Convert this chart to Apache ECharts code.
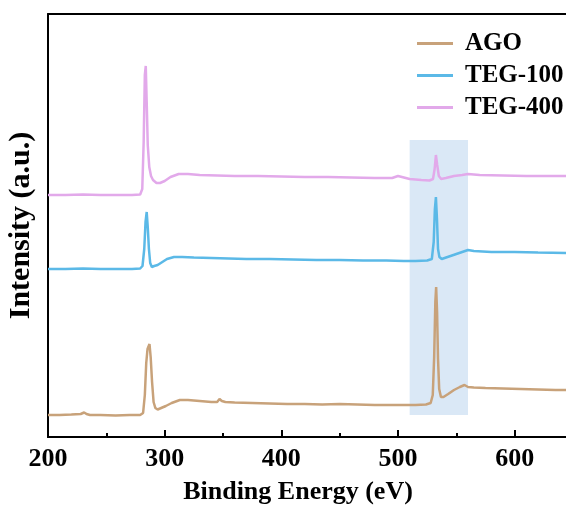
<!DOCTYPE html>
<html>
<head>
<meta charset="utf-8">
<title>XPS survey</title>
<script src="https://cdn.jsdelivr.net/npm/echarts@6/dist/echarts.min.js"></script>
<style>
  html, body { margin: 0; padding: 0; background: #fff; }
  #main { width: 566px; height: 506px; }
</style>
</head>
<body>
<div id="main"></div>
<script>
  // values (intensity in arbitrary offset units)
  var xTicks = [200, 300, 400, 500, 600];
  var xMinorTicks = [250, 350, 450, 550];
  var seriesNames = ['AGO', 'TEG-100', 'TEG-400'];
  var shadeRange = [510, 560];

  var agoEnergy = [200, 210, 220, 228, 231, 233, 236, 245, 258, 270, 279, 281.5, 283, 284.2, 285.3, 286.2, 287, 288, 289.2, 290.5, 292, 294, 297, 301, 306, 313, 320, 330, 340, 345, 347, 349, 352, 360, 375, 390, 405, 420, 435, 450, 465, 480, 495, 505, 515, 524, 528, 529.8, 531, 532, 532.7, 533.5, 534.3, 535.3, 536.8, 539, 543, 548, 553, 557, 560, 565, 575, 590, 605, 620, 635, 644];
  var agoIntensity = [22, 22, 22.5, 23, 24.5, 23, 22, 22, 21.5, 22, 22, 24, 42, 74, 88, 86, 93, 80, 55, 35, 29, 27.5, 29, 31, 34, 37, 37, 36, 35, 35, 38, 36, 35, 34.5, 34, 33.5, 33, 33, 32.5, 33, 32.5, 32, 32, 32, 32, 32.5, 34, 42, 80, 135, 150, 125, 78, 48, 40, 40, 43, 47, 50, 52, 50, 49.5, 49, 48.5, 48, 47.5, 47, 47];

  var teg100Energy = [200, 215, 230, 245, 260, 272, 279, 281, 282.5, 283.6, 284.6, 285.5, 286.5, 287.6, 289, 291, 294, 298, 302, 308, 315, 325, 340, 355, 370, 390, 410, 430, 450, 470, 490, 505, 515, 525, 529, 530.6, 531.6, 532.5, 533.4, 534.3, 535.5, 537.5, 540, 545, 550, 555, 560, 565, 580, 600, 620, 644];
  var teg100Intensity = [168, 168, 168.5, 168, 168, 168, 168.5, 171, 188, 215, 225, 210, 188, 174, 170, 171, 172, 175, 178, 180, 180, 179.5, 179, 178.5, 178, 178, 177.5, 177, 177, 176.5, 176.5, 176, 176, 176.5, 178, 195, 228, 240, 218, 188, 180, 178, 179, 181, 183, 185, 187, 186, 185, 185, 184.5, 184];

  var teg400Energy = [200, 215, 230, 245, 260, 272, 279, 280.8, 282, 283, 283.8, 284.6, 285.5, 286.8, 288.3, 290, 293, 296, 300, 305, 312, 320, 330, 345, 360, 380, 400, 420, 440, 460, 480, 495, 500, 510, 520, 527, 530, 531.4, 532.5, 533.6, 535, 537, 541, 548, 555, 560, 570, 590, 610, 630, 644];
  var teg400Intensity = [242, 242, 242.5, 242, 242, 242, 242.5, 248, 295, 362, 371, 335, 292, 270, 261, 257, 254, 254, 256, 260, 263, 263, 262, 261.5, 261, 261, 260.5, 260, 260, 259.5, 259, 259, 261, 258, 257, 256.5, 258, 268, 282, 272, 261, 258, 259, 261, 262, 263, 262, 261.5, 261, 261, 261];

  var colors = ['#c8a27a', '#5bb9e7', '#e2a9ea'];
  var serif = 'Liberation Serif';

  function pairs(xs, ys) {
    var out = [];
    for (var i = 0; i < xs.length; i++) out.push([xs[i], ys[i]]);
    return out;
  }

  var lineData = [
    pairs(agoEnergy, agoIntensity),
    pairs(teg100Energy, teg100Intensity),
    pairs(teg400Energy, teg400Intensity)
  ];

  var series = seriesNames.map(function (name, i) {
    return {
      name: name,
      type: 'line',
      data: lineData[i],
      color: colors[i],
      showSymbol: false,
      symbol: 'none',
      lineStyle: { width: 2.5, color: colors[i] },
      z: 2
    };
  });

  // highlighted O 1s region, drawn over the lines
  series.push({
    name: 'shade',
    type: 'line',
    data: [],
    z: 5,
    markArea: {
      silent: true,
      itemStyle: { color: 'rgba(150,190,228,0.35)' },
      data: [[{ xAxis: shadeRange[0], yAxis: 22 }, { xAxis: shadeRange[1], yAxis: 297 }]]
    }
  });

  var myChart = echarts.init(document.getElementById('main'));
  myChart.setOption({
    animation: false,
    backgroundColor: '#fff',
    grid: { left: 48, right: 0, top: 14, bottom: 69, outerBoundsMode: 'none' },
    legend: {
      data: seriesNames,
      orient: 'vertical',
      left: 412,
      top: 26,
      itemGap: 7,
      itemWidth: 43,
      itemHeight: 3,
      icon: 'path://M0,0h36v3h-36zM42.9,0h0.1v0.1h-0.1z',
      textStyle: { fontFamily: serif, fontWeight: 'bold', fontSize: 25, lineHeight: 25, color: '#000' }
    },
    xAxis: [
      {
        type: 'value',
        min: 200,
        max: 644,
        position: 'bottom',
        name: 'Binding Energy (eV)',
        nameLocation: 'middle',
        nameGap: 42,
        nameTextStyle: { fontFamily: serif, fontWeight: 'bold', fontSize: 26, color: '#000', padding: [0, 18, 0, 0] },
        axisLine: { lineStyle: { color: '#000', width: 2 } },
        axisTick: { inside: true, length: 7, lineStyle: { color: '#000', width: 2 }, customValues: xTicks },
        axisLabel: { margin: 9, fontFamily: serif, fontWeight: 'bold', fontSize: 26, color: '#000', customValues: xTicks },
        splitLine: { show: false }
      },
      {
        type: 'value',
        min: 200,
        max: 644,
        position: 'bottom',
        offset: 0,
        axisLine: { show: true, lineStyle: { color: '#000', width: 2 } },
        axisTick: { show: true, inside: true, length: 4, lineStyle: { color: '#000', width: 2 }, customValues: xMinorTicks },
        axisLabel: { show: false },
        splitLine: { show: false }
      },
      {
        type: 'value',
        min: 200,
        max: 644,
        position: 'top',
        axisLine: { lineStyle: { color: '#000', width: 2 } },
        axisTick: { show: false },
        axisLabel: { show: false },
        splitLine: { show: false }
      }
    ],
    yAxis: {
      type: 'value',
      min: 0,
      max: 423,
      name: 'Intensity (a.u.)',
      nameLocation: 'middle',
      nameGap: 12,
      nameTextStyle: { fontFamily: serif, fontWeight: 'bold', fontSize: 30, color: '#000' },
      axisLine: { show: true, lineStyle: { color: '#000', width: 2 } },
      axisTick: { show: false },
      axisLabel: { show: false },
      splitLine: { show: false }
    },
    series: series
  });
</script>
</body>
</html>
